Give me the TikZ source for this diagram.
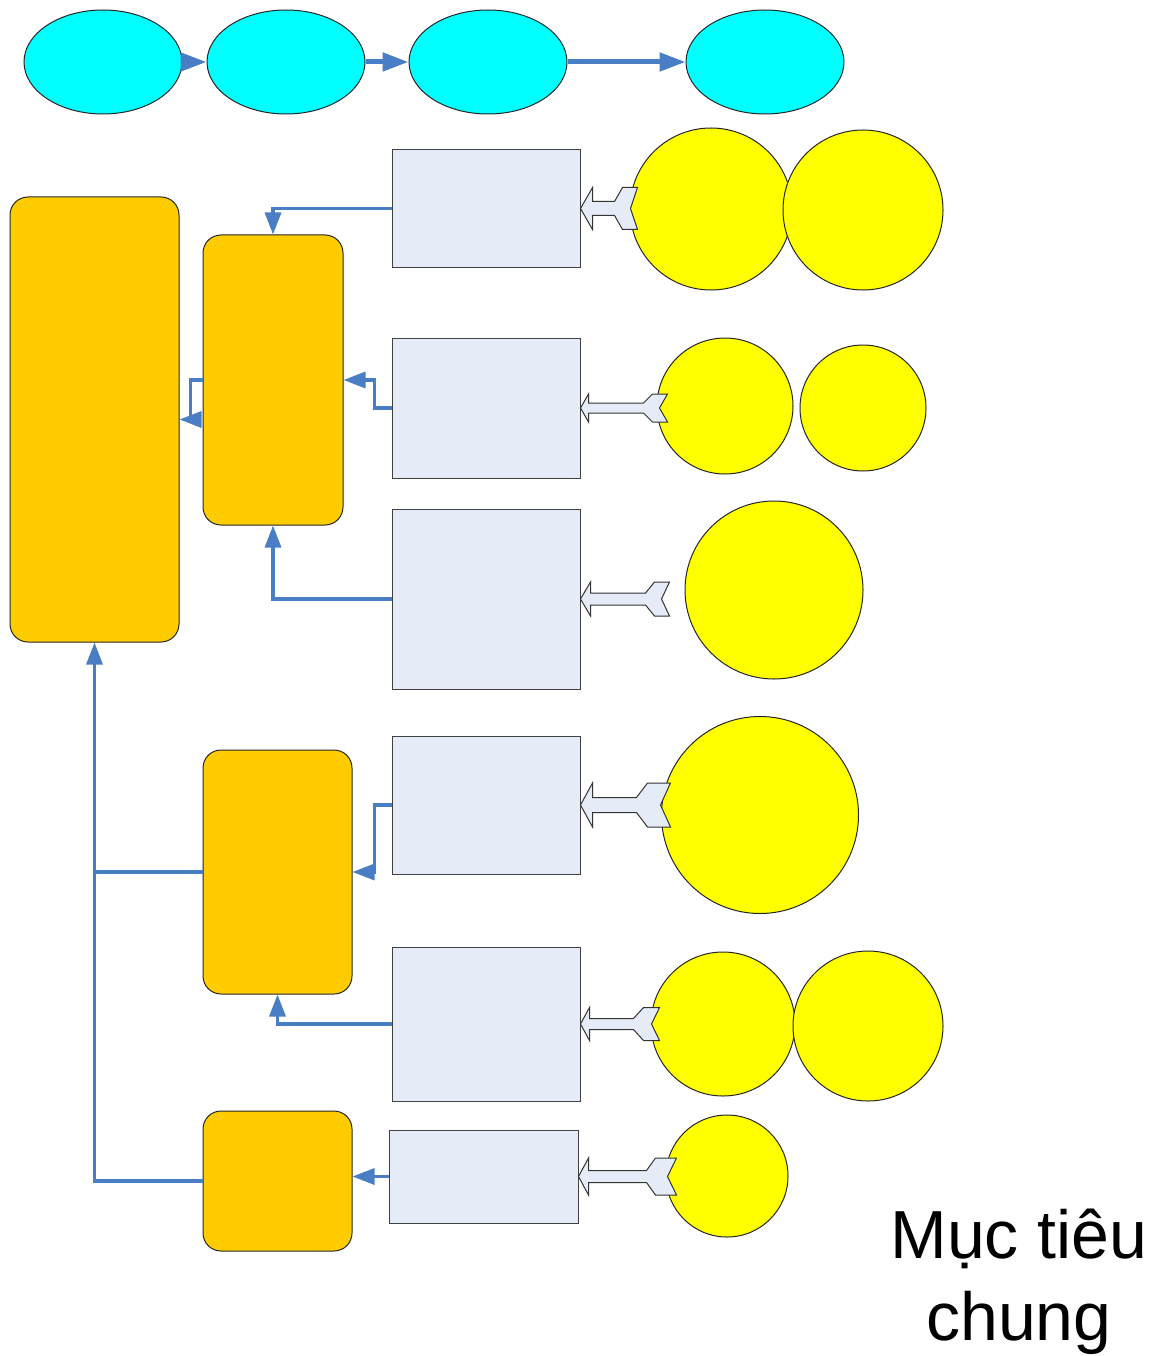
\documentclass[tikz,border=0pt]{standalone}
\usepackage{fontspec}
\setmainfont{Liberation Sans}
\usetikzlibrary{shapes.geometric,arrows.meta}

\definecolor{skycyan}{HTML}{00FFFF}
\definecolor{goldbox}{HTML}{FFCC00}
\definecolor{sunyellow}{HTML}{FFFF00}
\definecolor{paleblue}{HTML}{E6ECF7}
\definecolor{linkblue}{HTML}{4A7EC4}

\tikzset{
    oval/.style={ellipse, draw=black!85, line width=1pt, fill=skycyan,
        minimum width=158, minimum height=104, inner sep=0},
    block/.style={rectangle, rounded corners=18, draw=black!85, line width=1pt,
        fill=goldbox, inner sep=0},
    card/.style={rectangle, draw=black!75, line width=1pt, fill=paleblue, inner sep=0},
    disc/.style={circle, draw=black!85, line width=1pt, fill=sunyellow, inner sep=0},
    flow/.style={draw=linkblue, line width=5, -{Triangle[length=26,width=18]}},
    link/.style={draw=linkblue, line width=3.3, -{Triangle[length=22,width=16]}},
    plain link/.style={draw=linkblue, line width=3.3},
    fat/.style={draw=black!80, line width=1pt, fill=paleblue, line join=miter},
}

\begin{document}
\begin{tikzpicture}[x=1pt, y=-1pt]
    \useasboundingbox (0,0) rectangle (1166,1356);

    % top row
    \node[oval] (e1) at (103,62) {};
    \node[oval] (e2) at (286,62) {};
    \node[oval] (e3) at (488,62) {};
    \node[oval] (e4) at (765,62) {};
    \draw[flow] (e1) -- (e2);
    \draw[flow] (e2) -- (e3);
    \draw[flow] (e3) -- (e4);

    % gold blocks
    \node[block, minimum width=169, minimum height=445] (big) at (94.5,419.5) {};
    \node[block, minimum width=140, minimum height=290] (a) at (273,380) {};
    \node[block, minimum width=149, minimum height=244] (b) at (277.5,872) {};
    \node[block, minimum width=149, minimum height=140] (c) at (277.5,1181) {};

    % cards
    \node[card, minimum width=188, minimum height=117] (r1) at (486,208.5) {};
    \node[card, minimum width=188, minimum height=140] (r2) at (486,408) {};
    \node[card, minimum width=188, minimum height=180] (r3) at (486,599) {};
    \node[card, minimum width=188, minimum height=138] (r4) at (486,805) {};
    \node[card, minimum width=188, minimum height=154] (r5) at (486,1024) {};
    \node[card, minimum width=189, minimum height=93] (r6) at (483.5,1176.5) {};

    % yellow discs
    \node[disc, minimum size=162] (d1a) at (711,209) {};
    \node[disc, minimum size=160] (d1b) at (863,210) {};
    \node[disc, minimum size=136] (d2a) at (725,406) {};
    \node[disc, minimum size=126] (d2b) at (863,408) {};
    \node[disc, minimum size=178] (d3) at (774,590) {};
    \node[disc, minimum size=197] (d4) at (760,815) {};
    \node[disc, minimum size=144] (d5a) at (723,1024) {};
    \node[disc, minimum size=150] (d5b) at (868,1026) {};
    \node[disc, minimum size=122] (d6) at (727,1176) {};

    % fat arrows into the cards
    \foreach \n/\hd/\hh/\sh/\sl/\fd/\fw/\nd in {
        r1/12/21/7/22/8/15/7, r2/8/14/5/55/9/15/8, r3/10/17/6/55/9/15/8,
        r4/12/22/7.5/44/11/23/10, r5/9/16.5/5.5/44/10/16/8, r6/10/18.5/6/58/9/21/9}
        \draw[fat] (\n.east) -- ++(\hd,-\hh) -- ++(0,\hh-\sh) -- ++(\sl,0)
            -- ++(\fd,\sh-\hh) -- ++(\fw,0) -- ++(-\nd,\hh) -- ++(\nd,\hh)
            -- ++(-\fw,0) -- ++(-\fd,\sh-\hh) -- ++(-\sl,0) -- ++(0,\hh-\sh) -- cycle;

    % blue connectors
    \draw[link] (r1.west) -| (a.north);
    \draw[link] (r2.west) -- ++(-17,0) |- (a.east);
    \draw[link] (r3.west) -| (a.south);
    \draw[link] (a.west) -- ++(-12,0) |- (big.east);
    \draw[link] (r4.west) -- ++(-17,0) |- (b.east);
    \draw[link] (r5.west) -| (b.south);
    \draw[link] (r6.west) -- (c.east |- r6.west);
    \draw[plain link] (b.west) -- (big.south |- b.west);
    \draw[link] (c.west) -| (big.south);

    \node[align=center, font=\fontsize{68}{82}\selectfont, anchor=base] (goal)
        at (1019,1340) {Mục tiêu\\chung};
\end{tikzpicture}
\end{document}
